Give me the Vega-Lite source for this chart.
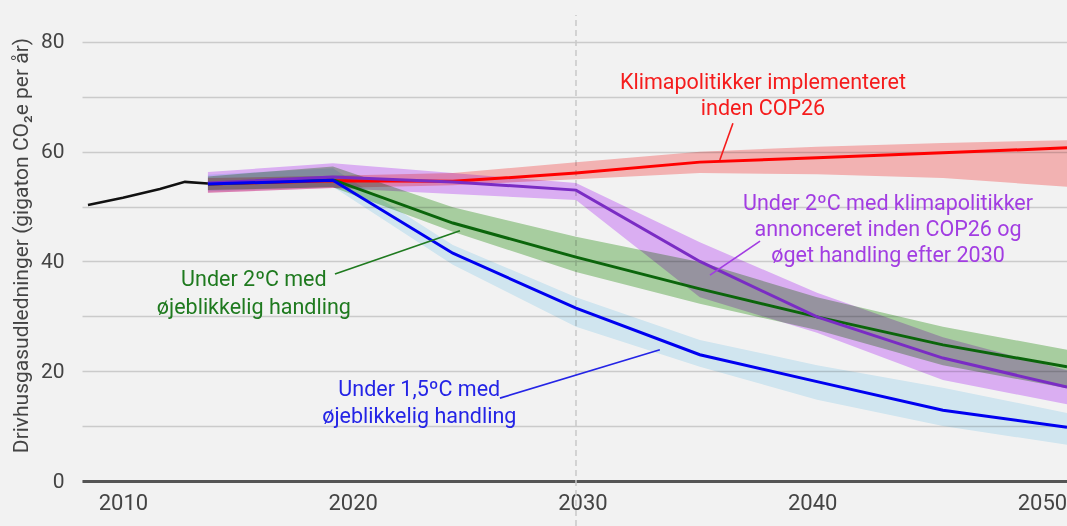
{
  "$schema": "https://vega.github.io/schema/vega-lite/v6.json",
  "width": 985,
  "height": 472,
  "autosize": {"type": "none"},
  "padding": {"left": 82, "top": 9, "right": 0, "bottom": 45},
  "background": "#f2f2f2",
  "config": {"font": "Roboto", "view": {"stroke": null}},
  "datasets": {
    "scen": [
      {"s": "red", "year": 2013.7, "mid": 54.1, "lo": 52.5, "hi": 55.2},
      {"s": "red", "year": 2019.14, "mid": 54.7, "lo": 53.4, "hi": 55.6},
      {"s": "red", "year": 2024.36, "mid": 54.6, "lo": 53.9, "hi": 56.1},
      {"s": "red", "year": 2029.72, "mid": 56.1, "lo": 55.0, "hi": 58.1},
      {"s": "red", "year": 2035.11, "mid": 58.1, "lo": 56.1, "hi": 60.0},
      {"s": "red", "year": 2040.21, "mid": 58.9, "lo": 55.9, "hi": 60.9},
      {"s": "red", "year": 2045.69, "mid": 59.8, "lo": 55.2, "hi": 61.6},
      {"s": "red", "year": 2051.09, "mid": 60.7, "lo": 53.6, "hi": 62.1},
      {"s": "purple", "year": 2013.7, "mid": 54.3, "lo": 52.5, "hi": 56.3},
      {"s": "purple", "year": 2019.14, "mid": 55.4, "lo": 53.4, "hi": 57.9},
      {"s": "purple", "year": 2024.36, "mid": 54.5, "lo": 52.3, "hi": 56.1},
      {"s": "purple", "year": 2029.72, "mid": 53.0, "lo": 51.2, "hi": 54.3},
      {"s": "purple", "year": 2035.11, "mid": 40.0, "lo": 33.5, "hi": 43.5},
      {"s": "purple", "year": 2040.21, "mid": 29.9, "lo": 27.0, "hi": 34.3},
      {"s": "purple", "year": 2045.69, "mid": 22.4, "lo": 18.4, "hi": 26.2},
      {"s": "purple", "year": 2051.09, "mid": 17.1, "lo": 14.0, "hi": 20.2},
      {"s": "green", "year": 2013.7, "mid": 54.1, "lo": 53.0, "hi": 55.5},
      {"s": "green", "year": 2019.14, "mid": 54.9, "lo": 53.5, "hi": 57.3},
      {"s": "green", "year": 2024.36, "mid": 47.0, "lo": 45.4, "hi": 49.9},
      {"s": "green", "year": 2029.72, "mid": 40.8, "lo": 38.1, "hi": 44.5},
      {"s": "green", "year": 2035.11, "mid": 35.0, "lo": 32.3, "hi": 39.9},
      {"s": "green", "year": 2040.21, "mid": 29.9, "lo": 27.5, "hi": 33.5},
      {"s": "green", "year": 2045.69, "mid": 24.8, "lo": 21.1, "hi": 28.1},
      {"s": "green", "year": 2051.09, "mid": 20.8, "lo": 16.9, "hi": 23.9},
      {"s": "blue", "year": 2013.7, "mid": 54.1, "lo": 52.8, "hi": 55.8},
      {"s": "blue", "year": 2019.14, "mid": 54.8, "lo": 53.6, "hi": 57.0},
      {"s": "blue", "year": 2024.36, "mid": 41.5, "lo": 39.4, "hi": 43.0},
      {"s": "blue", "year": 2029.72, "mid": 31.5, "lo": 28.1, "hi": 33.5},
      {"s": "blue", "year": 2035.11, "mid": 23.0, "lo": 20.8, "hi": 25.7},
      {"s": "blue", "year": 2040.21, "mid": 18.1, "lo": 14.8, "hi": 21.1},
      {"s": "blue", "year": 2045.69, "mid": 12.9, "lo": 10.0, "hi": 17.0},
      {"s": "blue", "year": 2051.09, "mid": 9.8, "lo": 6.6, "hi": 12.4}
    ],
    "hist": [
      {"year": 2008.48, "mid": 50.3},
      {"year": 2010.0, "mid": 51.6},
      {"year": 2011.61, "mid": 53.2},
      {"year": 2012.7, "mid": 54.5},
      {"year": 2013.7, "mid": 54.2}
    ],
    "labels": [
      {"s": "red", "year": 2037.86, "value": 72.5, "text": "Klimapolitikker implementeret"},
      {"s": "red", "year": 2037.86, "value": 67.8, "text": "inden COP26"},
      {"s": "purple", "year": 2043.3, "value": 50.5, "text": "Under 2ºC med klimapolitikker"},
      {"s": "purple", "year": 2043.3, "value": 45.7, "text": "annonceret inden COP26 og"},
      {"s": "purple", "year": 2043.3, "value": 41.0, "text": "øget handling efter 2030"},
      {"s": "green", "year": 2015.7, "value": 36.6, "text": "Under 2ºC med"},
      {"s": "green", "year": 2015.7, "value": 31.6, "text": "øjeblikkelig handling"},
      {"s": "blue", "year": 2022.9, "value": 16.6, "text": "Under 1,5ºC med"},
      {"s": "blue", "year": 2022.9, "value": 11.7, "text": "øjeblikkelig handling"}
    ],
    "leaders": [
      {"s": "red", "year": 2036.55, "value": 65.2, "year2": 2035.98, "value2": 58.5},
      {"s": "purple", "year": 2037.73, "value": 43.7, "year2": 2035.55, "value2": 37.5},
      {"s": "green", "year": 2019.23, "value": 37.7, "year2": 2024.67, "value2": 45.6},
      {"s": "blue", "year": 2026.41, "value": 15.1, "year2": 2033.37, "value2": 23.9}
    ],
    "marker": [
      {"year": 2029.72, "value": -8.2, "value2": 84.9}
    ]
  },
  "layer": [
    {
      "data": {"name": "marker"},
      "mark": {"type": "rule", "color": "#c8c8c8", "strokeWidth": 1.5, "strokeDash": [6, 4]},
      "encoding": {
        "x": {"field": "year", "type": "quantitative", "scale": {"domain": [2008.22, 2051.09], "nice": false, "zero": false},
          "axis": {"values": [2010, 2020, 2030, 2040, 2050], "format": "d", "grid": false, "ticks": false,
            "domainColor": "#555555", "domainWidth": 3, "labelFontSize": 22, "labelColor": "#444444",
            "labelPadding": 11, "title": null, "labelFlush": false}},
        "y": {"field": "value", "type": "quantitative", "scale": {"domain": [0, 86], "nice": false},
          "axis": {"values": [0, 10, 20, 30, 40, 50, 60, 70, 80], "labelExpr": "datum.value % 20 == 0 ? datum.label : ''",
            "grid": true, "gridColor": "#cbcbcb", "gridWidth": 1.5, "domain": false, "ticks": false,
            "labelFontSize": 21, "labelColor": "#444444", "labelPadding": 18,
            "title": "Drivhusgasudledninger (gigaton CO₂e per år)", "titleFontSize": 21, "titleFontWeight": "normal",
            "titleColor": "#444444", "titlePadding": 9}},
        "y2": {"field": "value2"}
      }
    },
    {
      "data": {"name": "scen"},
      "mark": {"type": "area", "blend": "multiply", "interpolate": "linear"},
      "encoding": {
        "x": {"field": "year", "type": "quantitative", "scale": {"domain": [2008.22, 2051.09], "nice": false, "zero": false}},
        "y": {"field": "lo", "type": "quantitative", "scale": {"domain": [0, 86], "nice": false}},
        "y2": {"field": "hi"},
        "fill": {"field": "s", "type": "nominal", "legend": null,
          "scale": {"domain": ["red", "purple", "green", "blue"], "range": ["#ffbcbc", "#e6b8ff", "#b0d8a8", "#dcf2fc"]}}
      }
    },
    {
      "data": {"name": "hist"},
      "mark": {"type": "line", "color": "#111111", "strokeWidth": 2.5},
      "encoding": {
        "x": {"field": "year", "type": "quantitative", "scale": {"domain": [2008.22, 2051.09], "nice": false, "zero": false}},
        "y": {"field": "mid", "type": "quantitative", "scale": {"domain": [0, 86], "nice": false}}
      }
    },
    {
      "data": {"name": "scen"},
      "transform": [{"filter": "datum.s == 'red'"}],
      "mark": {"type": "line", "color": "#ff0000", "strokeWidth": 3},
      "encoding": {
        "x": {"field": "year", "type": "quantitative", "scale": {"domain": [2008.22, 2051.09], "nice": false, "zero": false}},
        "y": {"field": "mid", "type": "quantitative", "scale": {"domain": [0, 86], "nice": false}}
      }
    },
    {
      "data": {"name": "scen"},
      "transform": [{"filter": "datum.s == 'green'"}],
      "mark": {"type": "line", "color": "#0b650b", "strokeWidth": 3},
      "encoding": {
        "x": {"field": "year", "type": "quantitative", "scale": {"domain": [2008.22, 2051.09], "nice": false, "zero": false}},
        "y": {"field": "mid", "type": "quantitative", "scale": {"domain": [0, 86], "nice": false}}
      }
    },
    {
      "data": {"name": "scen"},
      "transform": [{"filter": "datum.s == 'purple'"}],
      "mark": {"type": "line", "color": "#7a2cc4", "strokeWidth": 3},
      "encoding": {
        "x": {"field": "year", "type": "quantitative", "scale": {"domain": [2008.22, 2051.09], "nice": false, "zero": false}},
        "y": {"field": "mid", "type": "quantitative", "scale": {"domain": [0, 86], "nice": false}}
      }
    },
    {
      "data": {"name": "scen"},
      "transform": [{"filter": "datum.s == 'blue'"}],
      "mark": {"type": "line", "color": "#0000f0", "strokeWidth": 3},
      "encoding": {
        "x": {"field": "year", "type": "quantitative", "scale": {"domain": [2008.22, 2051.09], "nice": false, "zero": false}},
        "y": {"field": "mid", "type": "quantitative", "scale": {"domain": [0, 86], "nice": false}}
      }
    },
    {
      "data": {"name": "leaders"},
      "mark": {"type": "rule", "strokeWidth": 1.6},
      "encoding": {
        "x": {"field": "year", "type": "quantitative", "scale": {"domain": [2008.22, 2051.09], "nice": false, "zero": false}},
        "y": {"field": "value", "type": "quantitative", "scale": {"domain": [0, 86], "nice": false}},
        "x2": {"field": "year2"},
        "y2": {"field": "value2"},
        "color": {"field": "s", "type": "nominal", "legend": null,
          "scale": {"domain": ["red", "purple", "green", "blue"], "range": ["#f51c1c", "#a23de2", "#1f7a1f", "#2424e6"]}}
      }
    },
    {
      "data": {"name": "labels"},
      "mark": {"type": "text", "align": "center", "baseline": "middle", "fontSize": 21.5, "font": "Roboto"},
      "encoding": {
        "x": {"field": "year", "type": "quantitative", "scale": {"domain": [2008.22, 2051.09], "nice": false, "zero": false}},
        "y": {"field": "value", "type": "quantitative", "scale": {"domain": [0, 86], "nice": false}},
        "text": {"field": "text"},
        "color": {"field": "s", "type": "nominal", "legend": null,
          "scale": {"domain": ["red", "purple", "green", "blue"], "range": ["#f51c1c", "#a23de2", "#1f7a1f", "#2424e6"]}}
      }
    }
  ]
}
